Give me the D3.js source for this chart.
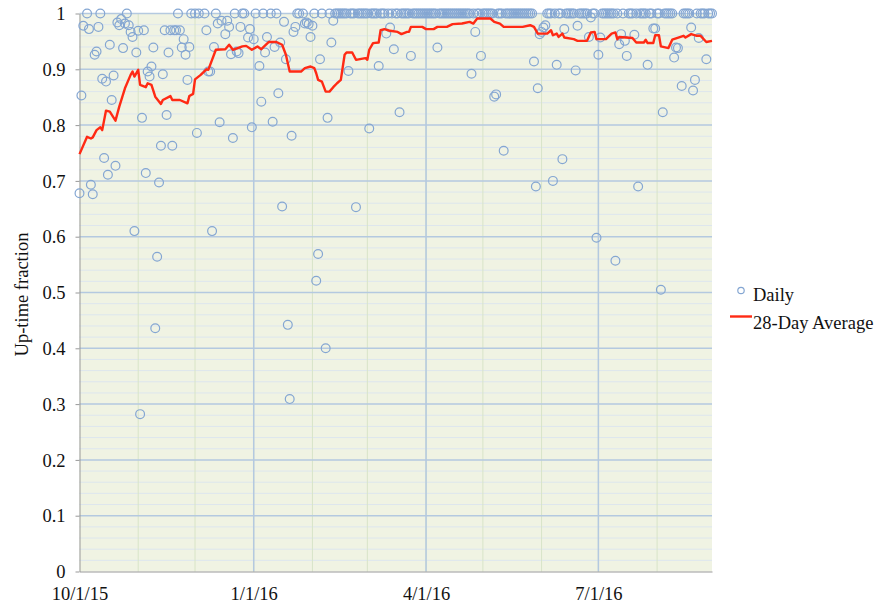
<!DOCTYPE html>
<html>
<head>
<meta charset="utf-8">
<script src="https://cdn.jsdelivr.net/npm/d3@7"></script>
<style>
  body { margin: 0; background: #fff; }
  svg text { font-family: "Liberation Serif", "Times New Roman", "DejaVu Serif", serif; }
</style>
</head>
<body>
<div id="chart"></div>
<script>
// Day offsets are counted from 10/1/15
var startDate = new Date(Date.UTC(2015, 9, 1));
var endDate = new Date(Date.UTC(2016, 7, 30));
var serif = "'Liberation Serif', 'Times New Roman', serif";

// Daily up-time readings below 1
var dailyDays = [0, 1, 2, 5, 6, 7, 8, 9, 10, 12, 13, 14, 15, 16, 17, 18, 19, 20, 21, 22, 23, 24, 26, 27, 28, 29, 30,
    31, 32, 33, 34, 35, 36, 37, 38, 39, 40, 41, 42, 43, 44, 45, 46, 47, 48, 49, 50, 51, 53, 54, 55, 56, 57, 58,
    62, 67, 68, 69, 70, 71, 73, 74, 75, 77, 78, 79, 80, 81, 83, 84, 85, 89, 90, 91, 92, 95, 96, 98, 99, 102, 103,
    105, 106, 107, 108, 109, 110, 111, 112, 113, 114, 119, 120, 121, 122, 123, 125, 126, 127, 130, 131, 133, 134,
    142, 146, 153, 158, 162, 164, 166, 169, 175, 189, 207, 209, 212, 219, 220, 224, 240, 241, 242, 243, 244, 245,
    246, 250, 252, 255, 256, 262, 263, 269, 270, 273, 274, 275, 283, 285, 286, 288, 289, 293, 295, 300, 303, 304,
    307, 308, 314, 315, 316, 318, 323, 324, 325, 327, 331];
var dailyValues = [0.678, 0.853, 0.978, 0.972, 0.693, 0.676, 0.926, 0.932, 0.976, 0.883, 0.741, 0.878, 0.711, 0.944,
    0.845, 0.889, 0.727, 0.984, 0.979, 0.990, 0.938, 0.982, 0.979, 0.967, 0.958, 0.610, 0.930,
    0.969, 0.282, 0.813, 0.970, 0.714, 0.896, 0.887, 0.905, 0.939, 0.436, 0.564, 0.697, 0.763, 0.891, 0.970, 0.818,
    0.930, 0.970, 0.763, 0.970, 0.970, 0.970, 0.939, 0.954, 0.926, 0.881, 0.940,
    0.786, 0.970, 0.896, 0.896, 0.610, 0.940, 0.982, 0.805, 0.987, 0.963, 0.987, 0.976, 0.927, 0.777, 0.932, 0.929,
    0.976, 0.957, 0.972, 0.796, 0.954, 0.906, 0.842, 0.930, 0.958, 0.806, 0.940,
    0.857, 0.948, 0.654, 0.985, 0.918, 0.442, 0.309, 0.781, 0.967, 0.976, 0.982, 0.984, 0.981, 0.958, 0.978, 0.521,
    0.569, 0.918, 0.400, 0.813, 0.948, 0.987,
    0.897, 0.653, 0.794, 0.906, 0.964, 0.975, 0.936, 0.823, 0.924, 0.939, 0.892, 0.967, 0.924, 0.851, 0.855, 0.754,
    0.914, 0.690, 0.866, 0.963, 0.967, 0.975,
    0.979, 0.700, 0.908, 0.739, 0.972, 0.898, 0.978, 0.958, 0.993, 0.598, 0.926, 0.957, 0.557, 0.945, 0.963, 0.951,
    0.924, 0.962, 0.690, 0.908, 0.973, 0.973,
    0.505, 0.823, 0.921, 0.939, 0.938, 0.870, 0.975, 0.862, 0.881, 0.956, 0.918];

// Days with full up-time (value 1)
var fullDays = [4, 11, 25, 52, 59, 61, 63, 66, 72, 82, 86, 87, 93, 97, 101, 104, 115, 116, 118, 124, 128, 132,
    135, 136, 137, 138, 139, 140, 141, 143, 144, 145, 147, 148, 149, 150, 151, 152, 154, 155, 156, 157, 159, 160,
    161, 163, 165, 167, 168, 170, 171, 172, 173, 174, 176, 177, 178, 179, 180, 181, 182, 183, 184, 185, 186, 187,
    188, 190, 191, 192, 193, 194, 195, 196, 197, 198, 199, 200, 201, 202, 203, 204, 205, 206, 208, 210, 211, 213,
    214, 215, 216, 217, 218, 221, 222, 223, 225, 226, 227, 228, 229, 230, 231, 232, 233, 234, 235, 236, 237, 238,
    239, 247, 248, 249, 251, 253, 254, 257, 258, 259, 260, 261, 264, 265, 266, 267, 268, 271, 272, 276, 277, 278,
    279, 280, 281, 282, 284, 287, 290, 291, 292, 294, 296, 297, 298, 299, 301, 302, 305, 306, 309, 310, 311, 312,
    313, 319, 320, 321, 322, 326, 328, 329, 330, 332, 333, 334];

// 28-day average, read at the corners of the line
var avgDays = [0, 4, 6, 7, 9, 11, 12, 14, 16, 19, 21, 24, 27, 28, 29, 31, 32, 35, 36, 38, 40, 43, 44, 48, 49, 53,
    57, 58, 60, 61, 64, 67, 68, 70, 72, 77, 79, 81, 86, 88, 91, 94, 96, 100, 104, 107, 109, 110, 111, 117, 119,
    122, 124, 125, 126, 128, 130, 132, 134, 136, 138, 140, 141, 144, 146, 151, 152, 153, 155, 158, 159, 161, 164,
    168, 170, 173, 174, 175, 181, 183, 187, 189, 194, 197, 202, 206, 208, 210, 217, 219, 222, 224, 234, 238, 240,
    242, 247, 249, 250, 252, 253, 255, 256, 261, 263, 268, 270, 272, 273, 278, 281, 283, 284, 285, 292, 294, 298,
    299, 300, 303, 304, 306, 307, 311, 313, 319, 320, 323, 326, 328, 331, 334];
var avgValues = [0.748, 0.779, 0.776, 0.778, 0.791, 0.796, 0.791, 0.826, 0.824, 0.808, 0.833, 0.866, 0.890, 0.896,
    0.887, 0.899, 0.872, 0.868, 0.875, 0.872, 0.851, 0.838, 0.845, 0.852, 0.845, 0.845,
    0.839, 0.852, 0.856, 0.882, 0.890, 0.900, 0.899, 0.917, 0.935, 0.936, 0.944, 0.935, 0.941, 0.942, 0.935, 0.941,
    0.936, 0.949, 0.949, 0.944, 0.926, 0.911, 0.896, 0.896, 0.902,
    0.905, 0.902, 0.893, 0.881, 0.878, 0.860, 0.860, 0.868, 0.875, 0.881, 0.926, 0.930, 0.930, 0.917, 0.920, 0.917,
    0.935, 0.947, 0.948, 0.970, 0.972, 0.969,
    0.967, 0.963, 0.967, 0.967, 0.976, 0.976, 0.972, 0.972, 0.976, 0.976, 0.981, 0.982, 0.985, 0.982, 0.991, 0.991,
    0.985, 0.982, 0.976, 0.976, 0.979, 0.976,
    0.964, 0.964, 0.970, 0.961, 0.964, 0.958, 0.964, 0.957, 0.954, 0.951, 0.951, 0.966, 0.967, 0.954, 0.954, 0.964,
    0.966, 0.954, 0.958, 0.956, 0.948, 0.948,
    0.953, 0.947, 0.947, 0.961, 0.961, 0.941, 0.938, 0.953, 0.960, 0.957, 0.963, 0.960, 0.960, 0.949, 0.951];

var yTicks = [0, 0.1, 0.2, 0.3, 0.4, 0.5, 0.6, 0.7, 0.8, 0.9, 1];
var xTickDates = ["2015-10-01", "2016-01-01", "2016-04-01", "2016-07-01"];
var legendNames = ["Daily", "28-Day Average"];

// combine the two daily arrays into point objects
var dailyData = [];
for (var i = 0; i < dailyDays.length; i++) {
    dailyData.push({ day: dailyDays[i], v: dailyValues[i] });
}
for (var j = 0; j < fullDays.length; j++) {
    dailyData.push({ day: fullDays[j], v: 1 });
}
var avgData = avgDays.map(function (d, k) { return { day: d, v: avgValues[k] }; });

function dayDate(n) { return d3.utcDay.offset(startDate, n); }

var margin = { top: 13.5, right: 164, bottom: 33.5, left: 79.5 },
    width = 876 - margin.left - margin.right,
    height = 605 - margin.top - margin.bottom;

var svg = d3.select("#chart")
    .append("svg")
    .attr("width", 876)
    .attr("height", 605)
    .style("font-family", serif)
    .append("g")
    .attr("transform", "translate(" + margin.left + "," + margin.top + ")");

var x = d3.scaleUtc().domain([startDate, endDate]).range([0, width]);
var y = d3.scaleLinear().domain([0, 1]).range([height, 0]);

// plot background
svg.append("rect")
    .attr("width", width)
    .attr("height", height)
    .attr("fill", "#f0f3e3");

// minor horizontal grid every 0.02
var minorY = d3.range(1, 50).filter(function (k) { return k % 5 !== 0; }).map(function (k) { return k / 50; });
svg.selectAll(".minor-h")
    .data(minorY)
    .enter()
    .append("line")
    .attr("x1", 0).attr("x2", width)
    .attr("y1", function (d) { return y(d); })
    .attr("y2", function (d) { return y(d); })
    .attr("stroke", "#dde6ee")
    .attr("stroke-width", 1);

// minor vertical grid at month starts
var months = d3.utcMonth.range(d3.utcMonth.offset(startDate, 1), endDate);
svg.selectAll(".minor-v")
    .data(months)
    .enter()
    .append("line")
    .attr("x1", function (d) { return x(d); })
    .attr("x2", function (d) { return x(d); })
    .attr("y1", 0).attr("y2", height)
    .attr("stroke", "#d8e4c8")
    .attr("stroke-width", 1);

// major grid
svg.selectAll(".major-h")
    .data(yTicks.slice(1))
    .enter()
    .append("line")
    .attr("x1", 0).attr("x2", width)
    .attr("y1", function (d) { return y(d); })
    .attr("y2", function (d) { return y(d); })
    .attr("stroke", "#b4c9e0")
    .attr("stroke-width", 1.5);

var xTicks = xTickDates.map(function (s) { return new Date(s + "T00:00:00Z"); });
svg.selectAll(".major-v")
    .data(xTicks.slice(1))
    .enter()
    .append("line")
    .attr("x1", function (d) { return x(d); })
    .attr("x2", function (d) { return x(d); })
    .attr("y1", 0).attr("y2", height)
    .attr("stroke", "#b4c9e0")
    .attr("stroke-width", 1.5);

// Y axis
var yAxis = svg.append("g")
    .call(d3.axisLeft(y)
        .tickValues(yTicks)
        .tickSize(4)
        .tickSizeOuter(0)
        .tickPadding(10)
        .tickFormat(function (d) { return d === 0 ? "0" : d === 1 ? "1" : d.toFixed(1); }));
yAxis.attr("font-family", null).attr("font-size", null);
yAxis.selectAll("line").attr("stroke", "#999");
yAxis.select(".domain").attr("stroke", "#999");
yAxis.selectAll("text")
    .style("font-family", serif)
    .style("font-size", "18.5px")
    .attr("dy", "0.34em")
    .attr("fill", "#111");

// X axis
var xAxis = svg.append("g")
    .attr("transform", "translate(0," + height + ")")
    .call(d3.axisBottom(x)
        .tickValues(xTicks)
        .tickSize(0)
        .tickSizeOuter(0)
        .tickPadding(15)
        .tickFormat(d3.utcFormat("%-m/%-d/%y")));
xAxis.attr("font-family", null).attr("font-size", null);
xAxis.select(".domain").attr("stroke", "#999");
xAxis.selectAll("text")
    .style("font-family", serif)
    .style("font-size", "18.5px")
    .attr("fill", "#111");

// y axis title
svg.append("text")
    .attr("transform", "translate(" + (-52) + "," + (height / 2 + 2) + ")rotate(-90)")
    .attr("text-anchor", "middle")
    .style("font-family", serif)
    .style("font-size", "18.5px")
    .attr("fill", "#111")
    .text("Up-time fraction");

// Circles
svg.selectAll(".daily")
    .data(dailyData)
    .enter()
    .append("circle")
    .attr("cx", function (d) { return x(dayDate(d.day)); })
    .attr("cy", function (d) { return y(d.v); })
    .attr("r", 4.4)
    .attr("fill", "none")
    .attr("stroke", "#84a6d2")
    .attr("stroke-width", 1.2);

// 28-day average line
var line = d3.line()
    .x(function (d) { return x(dayDate(d.day)); })
    .y(function (d) { return y(d.v); });
svg.append("path")
    .datum(avgData)
    .attr("d", line)
    .attr("fill", "none")
    .attr("stroke", "#ff2a14")
    .attr("stroke-width", 2.4)
    .attr("stroke-linejoin", "round");

// Legend
var legend = svg.append("g")
    .attr("transform", "translate(" + (width + 16) + "," + (y(0.5) + 8) + ")");
legend.append("circle")
    .attr("cx", 13).attr("cy", -10)
    .attr("r", 3.2)
    .attr("fill", "none")
    .attr("stroke", "#84a6d2")
    .attr("stroke-width", 1.2);
legend.append("text")
    .attr("x", 25).attr("y", 0)
    .style("font-family", serif)
    .style("font-size", "18.5px")
    .attr("fill", "#111")
    .text(legendNames[0]);
legend.append("line")
    .attr("x1", 2).attr("x2", 24)
    .attr("y1", 16).attr("y2", 16)
    .attr("stroke", "#ff2a14")
    .attr("stroke-width", 2.4);
legend.append("text")
    .attr("x", 25).attr("y", 28.5)
    .style("font-family", serif)
    .style("font-size", "18.5px")
    .attr("fill", "#111")
    .text(legendNames[1]);
</script>
</body>
</html>
